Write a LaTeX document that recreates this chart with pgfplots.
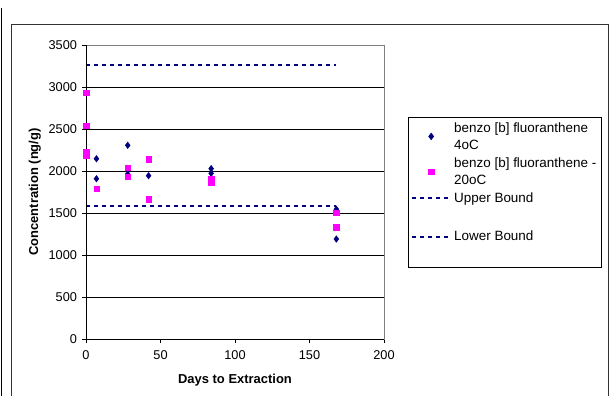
\documentclass[border=0pt]{standalone}
\usepackage{pgfplots}
\pgfplotsset{compat=1.18}
\usepackage{fontspec}
\setmainfont{Liberation Sans}
\definecolor{navy}{RGB}{0,0,128}
\definecolor{mag}{RGB}{255,0,255}
\begin{document}
\begin{tikzpicture}[x=1bp,y=1bp]
\useasboundingbox (0,0) rectangle (609,396);
\draw[line width=0.9bp] (1.5,388) -- (1.5,0);
\draw[line width=1bp, black!80] (11,0) -- (11,371) -- (608,371) -- (608,0);
\begin{axis}[
  at={(86bp,57bp)}, anchor=south west,
  scale only axis, width=298bp, height=294bp,
  xmin=0, xmax=200, ymin=0, ymax=3500,
  xtick={0,50,100,150,200}, ytick={0,500,1000,1500,2000,2500,3000,3500},
  xtick pos=bottom, ytick pos=left,
  tick align=outside, major tick length=4bp,
  tick style={black, line width=0.6bp},
  axis line style={draw=gray, line width=0.8bp},
  ymajorgrids, grid style={black, line width=0.7bp},
  ticklabel style={font=\fontsize{12.8}{14}\selectfont},
  xticklabel style={yshift=-4bp},
  yticklabel style={xshift=-1.5bp},
  /pgf/number format/assume math mode=true,
  /pgf/number format/1000 sep={},
  xlabel={\textbf{Days to Extraction}},
  ylabel={\textbf{Concentration (ng/g)}},
  label style={font=\fontsize{13}{15}\selectfont},
  xlabel style={yshift=-8bp},
  ylabel style={yshift=1bp},
  legend style={at={(1.0805,0.755)}, anchor=north west, draw=black, line width=0.6bp,
    font=\fontsize{13.5}{17}\selectfont, cells={align=left, anchor=west},
    inner sep=3bp, row sep=3bp},
  legend cell align=left,
  legend image code/.code={\path[draw=none,fill=none] (0bp,-4bp) rectangle (40bp,4bp);\draw[mark repeat=2,mark phase=2,#1] plot coordinates {(0bp,0bp) (19bp,0bp) (38bp,0bp)};},
  clip=false,
]
\addplot[only marks, mark=diamond*, mark size=3.3bp, color=navy] coordinates {
 (0,2200) (0,2180) (7,2146) (7,1908) (28,2306) (28,1964) (42,1944) (84,2028) (84,1972) (168,1545) (168,1190)};
\addlegendentry{benzo [b] fluoranthene\\4oC}
\addplot[only marks, mark=square*, mark size=2.7bp, color=mag] coordinates {
 (0,2933) (0,2536) (0,2226) (0,2190) (7,1790) (28,2040) (28,1932) (42,2139) (42,1663) (84,1901) (84,1865) (168,1504) (168,1333)};
\addlegendentry{benzo [b] fluoranthene -\\20oC}
\addplot[navy, line width=1.8bp, dash pattern=on 4bp off 4bp] coordinates {(0,3258) (168,3258)};
\addlegendentry{Upper Bound}
\addlegendimage{empty legend}
\addlegendentry{\strut}
\addplot[navy, line width=1.8bp, dash pattern=on 4bp off 4bp] coordinates {(0,1587) (168,1587)};
\addlegendentry{Lower Bound}
\addlegendimage{empty legend}
\addlegendentry{\strut}
\draw[black, line width=0.8bp] (rel axis cs:0,1) -- (rel axis cs:0,0) -- (rel axis cs:1,0);
\end{axis}
\end{tikzpicture}
\end{document}
